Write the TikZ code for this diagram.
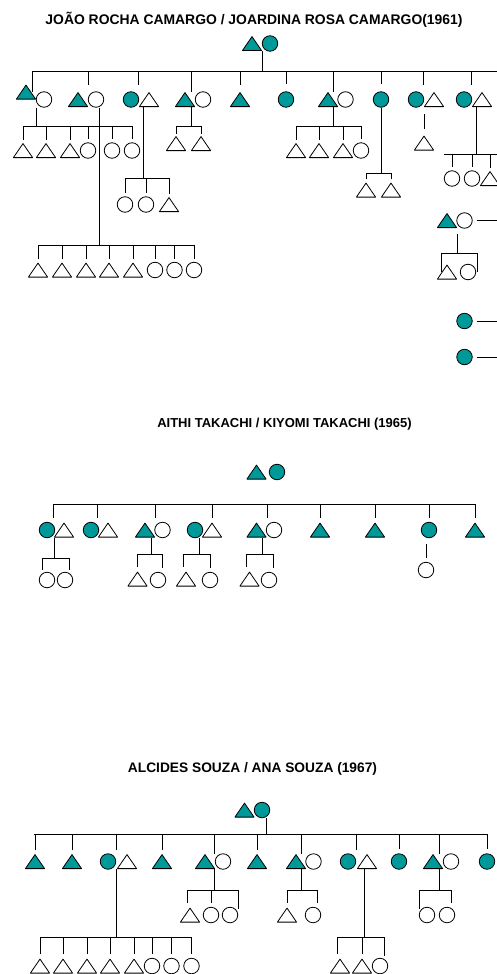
\documentclass[tikz,border=0pt]{standalone}
\usepackage{fontspec}
\setmainfont{Liberation Sans}
\definecolor{teal1}{RGB}{0,153,153}

\begin{document}
\begin{tikzpicture}[x=1pt,y=-1pt,line width=0.8pt,
	tri/.style={minimum width=20pt,minimum height=15pt,inner sep=0pt,
		path picture={\draw[fill=#1,line join=round]
			([xshift=0.4pt,yshift=0.4pt]path picture bounding box.south west) --
			([yshift=-0.6pt]path picture bounding box.north) --
			([xshift=-0.4pt,yshift=0.4pt]path picture bounding box.south east) -- cycle;}},
	mtri/.style={tri=white},
	ftri/.style={tri=teal1},
	circ/.style={circle,draw=black,minimum size=15.5pt,inner sep=0pt,fill=#1},
	mcirc/.style={circ=white},
	fcirc/.style={circ=teal1},
	title/.style={inner sep=0pt,font=\bfseries\fontsize{#1}{16}\selectfont}]
	
	\useasboundingbox (0,0) rectangle (497,974);
	
	%%%%%%%%%% CAMARGO (1961)
	\node[title=13.9] (t1) at (254,20) {JOÃO ROCHA CAMARGO / JOARDINA ROSA CAMARGO(1961)};
	\node[ftri] (pa) at (252,43.5) {};
	\node[fcirc] (pb) at (270,43.5) {};
	
	\coordinate (b1l) at (32,71);
	\coordinate (b1r) at (497,71);
	\draw (pa.south east) -- (pa.south east |- b1l);
	\draw (b1l) -- (b1r);
	
	% filhos
	\node[ftri] (k1) at (26,92) {};
	\node[mcirc] (k1s) at (44,99.5) {};
	\node[ftri] (k2) at (78,99.5) {};
	\node[mcirc] (k2s) at (96,99.5) {};
	\node[fcirc] (k3) at (131,99.5) {};
	\node[mtri] (k3s) at (149,99.5) {};
	\node[ftri] (k4) at (185,99.5) {};
	\node[mcirc] (k4s) at (203,99.5) {};
	\node[ftri] (k5) at (240,99.5) {};
	\node[fcirc] (k6) at (286,99.5) {};
	\node[ftri] (k7) at (328,99.5) {};
	\node[mcirc] (k7s) at (345.5,99.5) {};
	\node[fcirc] (k8) at (381,99.5) {};
	\node[fcirc] (k9) at (416,99.5) {};
	\node[mtri] (k9s) at (434,99.5) {};
	\node[fcirc] (k10) at (464,99.5) {};
	\node[mtri] (k10s) at (482,99.5) {};
	
	\coordinate (h1) at (36,126);
	\coordinate (h2) at (99,245);
	\coordinate (h3) at (143,178);
	\coordinate (h4) at (191,126);
	\coordinate (h7) at (333,126);
	\coordinate (h8) at (381,173);
	\coordinate (h10) at (476,154);
	
	\draw (b1l) -- (b1l |- k1.center);
	\draw (k2.north east |- b1l) -- ([yshift=7pt]k2.north east);
	\draw (k3s.north west |- b1l) -- ([yshift=7pt]k3s.north west);
	\draw (h4 |- b1l) -- (h4 |- k4.north);
	\draw (k5.north |- b1l) -- ([yshift=7pt]k5.north);
	\draw (k6.north |- b1l) -- ([yshift=7pt]k6.north);
	\draw (h7 |- b1l) -- (h7 |- k7.north);
	\draw (k8.north |- b1l) -- ([yshift=7pt]k8.north);
	\draw (k9s.north west |- b1l) -- ([yshift=7pt]k9s.north west);
	\draw (k10s.north west |- b1l) -- ([yshift=7pt]k10s.north west);
	
	% netos
	\draw (h1 |- k1s.south) -- (h1);
	\foreach \x/\s [count=\i] in {23/mtri,46/mtri,70/mtri,88/mcirc,112/mcirc,132/mcirc}
		\node[\s] (g1\i) at (\x,150.5) {};
	\draw (g11.north |- h1) -- (g16.north |- h1);
	\foreach \i in {1,...,6} \draw (g1\i.north |- h1) -- ([yshift=3pt]g1\i.north);
	
	\draw (h2 |- k2s.south) -- (h2);
	\foreach \x/\s [count=\i] in {38/mtri,62/mtri,86/mtri,109/mtri,133/mtri,155/mcirc,174.5/mcirc,194/mcirc}
		\node[\s] (g2\i) at (\x,270) {};
	\draw (g21.north |- h2) -- (g28.north |- h2);
	\foreach \i in {1,...,8} \draw (g2\i.north |- h2) -- ([yshift=3pt]g2\i.north);
	
	\draw (h3 |- k3s.south) -- (h3);
	\foreach \x/\s [count=\i] in {125/mcirc,146/mcirc,169/mtri}
		\node[\s] (g3\i) at (\x,204.5) {};
	\draw (g31.north |- h3) -- (g33.north |- h3);
	\foreach \i in {1,...,3} \draw (g3\i.north |- h3) -- ([yshift=3pt]g3\i.north);
	
	\draw (h4 |- k4.south) -- (h4);
	\node[mtri] (g41) at (176,143.5) {};
	\node[mtri] (g42) at (201,143.5) {};
	\draw (g41.north |- h4) -- (g42.north |- h4);
	\foreach \i in {1,2} \draw (g4\i.north |- h4) -- ([yshift=2pt]g4\i.north);
	
	\draw (h7 |- k7.south) -- (h7);
	\foreach \x/\s [count=\i] in {296/mtri,319/mtri,343/mtri,361/mcirc}
		\node[\s] (g7\i) at (\x,150.5) {};
	\draw (g71.north |- h7) -- (g74.north |- h7);
	\foreach \i in {1,...,4} \draw (g7\i.north |- h7) -- ([yshift=3pt]g7\i.north);
	
	\draw (k8.south) -- (h8);
	\node[mtri] (g81) at (366,190) {};
	\node[mtri] (g82) at (391,190) {};
	\draw (g81.north |- h8) -- (g82.north |- h8);
	\foreach \i in {1,2} \draw (g8\i.north |- h8) -- ([yshift=3pt]g8\i.north);
	
	\node[mtri] (g9) at (424,143) {};
	\draw ([yshift=-7pt]g9.north |- k9s.south) -- ([yshift=6pt]g9.north);
	
	\draw (h10 |- k10s.south) -- (h10);
	\foreach \x/\s [count=\i] in {452/mcirc,472/mcirc,490/mtri}
		\node[\s] (g10\i) at (\x,178.5) {};
	\draw ([xshift=-8pt]g101.north |- h10) -- ([xshift=8pt]g103.north |- h10);
	\foreach \i in {1,...,3} \draw (g10\i.north |- h10) -- ([yshift=3pt]g10\i.north);
	
	% lado direito
	\coordinate (e1) at (497,0);
	\node[ftri] (r1) at (447,220.5) {};
	\node[mcirc] (r1s) at (464.5,220.5) {};
	\draw ([xshift=4pt]r1s.east) -- (e1 |- r1s.east);
	\coordinate (h11) at (457,253);
	\draw ([yshift=-6pt]h11 |- r1.south) -- (h11);
	\node[mtri] (g111) at (447,272) {};
	\node[mcirc] (g112) at (468,272) {};
	\draw ([xshift=-6pt]g111.north |- h11) -- ([xshift=9pt]g112.north |- h11);
	\draw ([xshift=-6pt]g111.north |- h11) -- ([xshift=-6pt,yshift=-8pt]g111.north);
	\draw ([xshift=9pt]g112.north |- h11) -- ([xshift=9pt,yshift=-8pt]g112.north);
	
	\node[fcirc] (r2) at (464.5,321) {};
	\draw ([xshift=4pt]r2.east) -- (e1 |- r2.east);
	\node[fcirc] (r3) at (464.5,357) {};
	\draw ([xshift=4pt]r3.east) -- (e1 |- r3.east);
	
	%%%%%%%%%% TAKACHI (1965)
	\node[title=13] (t2) at (284.5,424) {AITHI TAKACHI / KIYOMI TAKACHI (1965)};
	\node[ftri] (qa) at (256.5,472) {};
	\node[fcirc] (qb) at (277,472) {};
	
	\coordinate (b2l) at (54,504);
	\coordinate (b2r) at (475,504);
	\draw (b2l) -- (b2r);
	
	\node[fcirc] (m1) at (47,530) {};
	\node[mtri] (m1s) at (64,530) {};
	\node[fcirc] (m2) at (91,530) {};
	\node[mtri] (m2s) at (108,530) {};
	\node[ftri] (m3) at (145,530) {};
	\node[mcirc] (m3s) at (162.5,530) {};
	\node[fcirc] (m4) at (195,530) {};
	\node[mtri] (m4s) at (212,530) {};
	\node[ftri] (m5) at (256.5,530) {};
	\node[mcirc] (m5s) at (274,530) {};
	\node[ftri] (m6) at (320,530) {};
	\node[ftri] (m7) at (375,530) {};
	\node[fcirc] (m8) at (429,530) {};
	\node[ftri] (m9) at (475,530) {};
	
	\draw (m1s.north west |- b2l) -- ([yshift=4pt]m1s.north west);
	\draw (m2s.north west |- b2l) -- ([yshift=4pt]m2s.north west);
	\draw (m3.north east |- b2l) -- ([yshift=4pt]m3.north east);
	\draw (m4s.north |- b2l) -- ([yshift=4pt]m4s.north);
	\draw (m5.north east |- b2l) -- ([yshift=4pt]m5.north east);
	\draw (m6.north |- b2l) -- ([yshift=4pt]m6.north);
	\draw (m7.north |- b2l) -- ([yshift=4pt]m7.north);
	\draw (m8.north |- b2l) -- ([yshift=4pt]m8.north);
	\draw (m9.north |- b2l) -- ([yshift=4pt]m9.north);
	
	\coordinate (h21) at (54,558);
	\coordinate (h23) at (151,554);
	\coordinate (h24) at (199,554);
	\coordinate (h25) at (262,554);
	
	\draw (h21 |- m1s.south) -- (h21);
	\node[mcirc] (g211) at (47,580) {};
	\node[mcirc] (g212) at (65,580) {};
	\draw ([xshift=-5pt]g211.north |- h21) -- ([xshift=4pt]g212.north |- h21);
	\draw ([xshift=-5pt]g211.north |- h21) -- ([xshift=-5pt,yshift=2pt]g211.north);
	\draw ([xshift=4pt]g212.north |- h21) -- ([xshift=4pt,yshift=2pt]g212.north);
	
	\draw (h23 |- m3.south) -- (h23);
	\node[mtri] (g231) at (137.5,579) {};
	\node[mcirc] (g232) at (158,580) {};
	\draw (g231.north |- h23) -- ([xshift=4pt]g232.north |- h23);
	\draw (g231.north |- h23) -- ([yshift=4pt]g231.north);
	\draw ([xshift=4pt]g232.north |- h23) -- ([xshift=4pt,yshift=4pt]g232.north);
	
	\draw (h24 |- m4s.south) -- (h24);
	\node[mtri] (g241) at (186,579) {};
	\node[mcirc] (g242) at (210,580) {};
	\draw ([xshift=-3pt]g241.north |- h24) -- (g242.north |- h24);
	\draw ([xshift=-3pt]g241.north |- h24) -- ([xshift=-3pt,yshift=4pt]g241.north);
	\draw (g242.north |- h24) -- ([yshift=4pt]g242.north);
	
	\draw (h25 |- m5.south) -- (h25);
	\node[mtri] (g251) at (249.5,579) {};
	\node[mcirc] (g252) at (269,580) {};
	\draw ([xshift=-3pt]g251.north |- h25) -- ([xshift=4pt]g252.north |- h25);
	\draw ([xshift=-3pt]g251.north |- h25) -- ([xshift=-3pt,yshift=4pt]g251.north);
	\draw ([xshift=4pt]g252.north |- h25) -- ([xshift=4pt,yshift=4pt]g252.north);
	
	\node[mcirc] (g28) at (426,570) {};
	\draw ([yshift=-6pt]g28.north |- m8.south) -- ([yshift=4pt]g28.north);
	
	%%%%%%%%%% SOUZA (1967)
	\node[title=13.75] (t3) at (252.5,769) {ALCIDES SOUZA / ANA SOUZA (1967)};
	\node[ftri] (sa) at (244.5,810) {};
	\node[fcirc] (sb) at (262,810) {};
	
	\coordinate (h30) at (266,834);
	\coordinate (b3l) at (34,834);
	\coordinate (b3r) at (488,834);
	\draw (h30 |- sb.south) -- (h30);
	\draw (b3l) -- (b3r);
	
	\node[ftri] (n1) at (35,861.5) {};
	\node[ftri] (n2) at (72,861.5) {};
	\node[fcirc] (n3) at (108,861.5) {};
	\node[mtri] (n3s) at (127,861.5) {};
	\node[ftri] (n4) at (162,861.5) {};
	\node[ftri] (n5) at (205,861.5) {};
	\node[mcirc] (n5s) at (223,861.5) {};
	\node[ftri] (n6) at (257,861.5) {};
	\node[ftri] (n7) at (296,861.5) {};
	\node[mcirc] (n7s) at (313.5,861.5) {};
	\node[fcirc] (n8) at (348,861.5) {};
	\node[mtri] (n8s) at (367,861.5) {};
	\node[fcirc] (n9) at (399,861.5) {};
	\node[ftri] (n10) at (433,861.5) {};
	\node[mcirc] (n10s) at (451,861.5) {};
	\node[fcirc] (n11) at (487,861.5) {};
	
	\coordinate (h33) at (116,937);
	\coordinate (h35) at (214,890);
	\coordinate (h37) at (301,890);
	\coordinate (h38) at (364,937);
	\coordinate (h310) at (439,890);
	
	\draw (n1.north |- b3l) -- ([yshift=4pt]n1.north);
	\draw (n2.north |- b3l) -- ([yshift=4pt]n2.north);
	\draw (h33 |- b3l) -- ([yshift=4pt]h33 |- n3s.north);
	\draw (n4.north |- b3l) -- ([yshift=4pt]n4.north);
	\draw (h35 |- b3l) -- (h35 |- n5.north);
	\draw (n6.north |- b3l) -- ([yshift=4pt]n6.north);
	\draw (h37 |- b3l) -- (h37 |- n7.north);
	\draw (n8s.north west |- b3l) -- ([yshift=4pt]n8s.north west);
	\draw (n9.north |- b3l) -- ([yshift=4pt]n9.north);
	\draw (h310 |- b3l) -- (h310 |- n10.north);
	\draw (n11.north |- b3l) -- ([yshift=4pt]n11.north);
	
	\draw (h33 |- n3s.south) -- (h33);
	\foreach \x/\s [count=\i] in {40/mtri,63/mtri,87/mtri,110/mtri,134/mtri,152/mcirc,171.5/mcirc,191.5/mcirc}
		\node[\s] (g33\i) at (\x,966) {};
	\draw (g331.north |- h33) -- (g338.north |- h33);
	\foreach \i in {1,...,8} \draw (g33\i.north |- h33) -- ([yshift=4pt]g33\i.north);
	
	\draw (h35 |- n5.south) -- (h35);
	\foreach \x/\s [count=\i] in {190/mtri,211/mcirc,230/mcirc}
		\node[\s] (g35\i) at (\x,915) {};
	\draw ([xshift=-3pt]g351.north |- h35) -- ([xshift=8pt]g353.north |- h35);
	\draw ([xshift=-3pt]g351.north |- h35) -- ([xshift=-3pt,yshift=4pt]g351.north);
	\draw (g352.north |- h35) -- ([yshift=4pt]g352.north);
	\draw ([xshift=8pt]g353.north |- h35) -- ([xshift=8pt,yshift=-2pt]g353.north);
	
	\draw (h37 |- n7.south) -- (h37);
	\node[mtri] (g371) at (287,915) {};
	\node[mcirc] (g372) at (313,915) {};
	\draw (g371.north |- h37) -- ([xshift=4pt]g372.north |- h37);
	\draw (g371.north |- h37) -- ([yshift=4pt]g371.north);
	\draw ([xshift=4pt]g372.north |- h37) -- ([xshift=4pt,yshift=4pt]g372.north);
	
	\draw (h38 |- n8s.south) -- (h38);
	\foreach \x/\s [count=\i] in {340/mtri,362/mtri,380/mcirc}
		\node[\s] (g38\i) at (\x,966) {};
	\draw ([xshift=-3pt]g381.north |- h38) -- ([xshift=4pt]g383.north |- h38);
	\draw ([xshift=-3pt]g381.north |- h38) -- ([xshift=-3pt,yshift=4pt]g381.north);
	\draw (g382.north |- h38) -- ([yshift=4pt]g382.north);
	\draw ([xshift=4pt]g383.north |- h38) -- ([xshift=4pt,yshift=2pt]g383.north);
	
	\draw (h310 |- n10.south) -- (h310);
	\node[mcirc] (g3101) at (427,915) {};
	\node[mcirc] (g3102) at (447,915) {};
	\draw ([xshift=-8pt]g3101.north |- h310) -- ([xshift=4pt]g3102.north |- h310);
	\draw ([xshift=-8pt]g3101.north |- h310) -- ([xshift=-8pt,yshift=-2pt]g3101.north);
	\draw ([xshift=4pt]g3102.north |- h310) -- ([xshift=4pt,yshift=4pt]g3102.north);
	
\end{tikzpicture}
\end{document}
